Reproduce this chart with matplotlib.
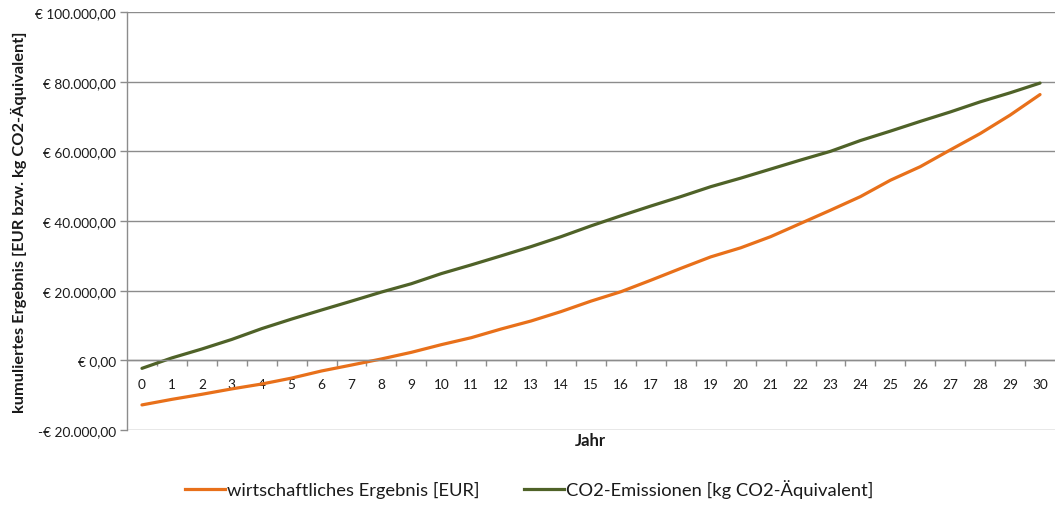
import matplotlib
matplotlib.use("Agg")
import matplotlib.pyplot as plt
from matplotlib.ticker import FuncFormatter, FixedLocator
from matplotlib.lines import Line2D

plt.rcParams['font.family'] = ['Lato', 'DejaVu Sans']

years = list(range(0, 31))
ergebnis_eur = [-12800, -11200, -9750, -8200, -6800, -5100, -3050, -1350, 400, 2300,
                4500, 6500, 9000, 11300, 14000, 17000, 19700, 23000, 26400, 29700,
                32300, 35500, 39300, 43100, 47000, 51700, 55600, 60400, 65100, 70400,
                76300]
co2_emissionen = [-2300, 700, 3250, 6000, 9100, 11850, 14450, 17000, 19600, 22000,
                  24900, 27400, 30000, 32650, 35500, 38600, 41500, 44300, 47000, 49850,
                  52300, 54900, 57500, 60000, 63100, 65800, 68600, 71300, 74200, 76800,
                  79600]
series_labels = ['wirtschaftliches Ergebnis [EUR]', 'CO2-Emissionen [kg CO2-Äquivalent]']
y_label = 'kumuliertes Ergebnis [EUR bzw. kg CO2-Äquivalent]'
x_label = 'Jahr'

ORANGE = '#E8701A'
GREEN = '#4F6228'
GRID = '#8C8C8C'
TEXT = '#1A1A1A'

fig = plt.figure(figsize=(10.55, 5.06), dpi=100)
ax = fig.add_axes([127 / 1055, 1 - 431 / 506, 1 - 127 / 1055, (431 - 13) / 506])

ax.plot(years, ergebnis_eur, color=ORANGE, lw=2.3, solid_capstyle='round')
ax.plot(years, co2_emissionen, color=GREEN, lw=2.3, solid_capstyle='round')

ax.set_xlim(-0.5, 30.5)
ax.set_ylim(-20000, 100000)
ax.set_yticks(range(-20000, 100001, 20000))


def euro(v, pos):
    s = f"{abs(v):,.2f}".replace(',', 'X').replace('.', ',').replace('X', '.')
    return ('-€ ' if v < 0 else '€ ') + s


ax.yaxis.set_major_formatter(FuncFormatter(euro))
ax.grid(axis='y', color=GRID, lw=1.0)
ax.set_axisbelow(True)

for side in ('top', 'right'):
    ax.spines[side].set_visible(False)
ax.spines['left'].set_color(GRID)
ax.spines['left'].set_linewidth(1.0)
ax.spines['bottom'].set_position(('data', 0))
ax.spines['bottom'].set_color(GRID)
ax.spines['bottom'].set_linewidth(1.0)

# tick marks between years, labels centred on years
ax.xaxis.set_major_locator(FixedLocator([k + 0.5 for k in years[:-1]]))
ax.xaxis.set_minor_locator(FixedLocator(years))
ax.tick_params(axis='x', which='major', length=4, width=1, color=GRID, labelbottom=False)
ax.tick_params(axis='x', which='minor', length=0, pad=13, labelsize=9.8, labelcolor=TEXT)
ax.set_xticklabels([str(y) for y in years], minor=True)
ax.tick_params(axis='y', length=5, width=1, color=GRID, pad=3, labelsize=9.8, labelcolor=TEXT)

fig.text(19 / 1055, 1 - 222 / 506, y_label, rotation=90, ha='center', va='center',
         fontsize=11.8, fontweight='bold', color=TEXT)
fig.text(590 / 1055, 1 - 441 / 506, x_label, ha='center', va='center',
         fontsize=12, fontweight='bold', color=TEXT)

handles = [Line2D([], [], color=ORANGE, lw=2.3), Line2D([], [], color=GREEN, lw=2.3)]
fig.legend(handles, series_labels, loc='center', bbox_to_anchor=(529 / 1055, 1 - 490 / 506),
           ncol=2, frameon=False, fontsize=13.2, handlelength=2.2, handletextpad=0.1,
           columnspacing=2.4, labelcolor=TEXT)

fig.savefig('out.png', dpi=100)
